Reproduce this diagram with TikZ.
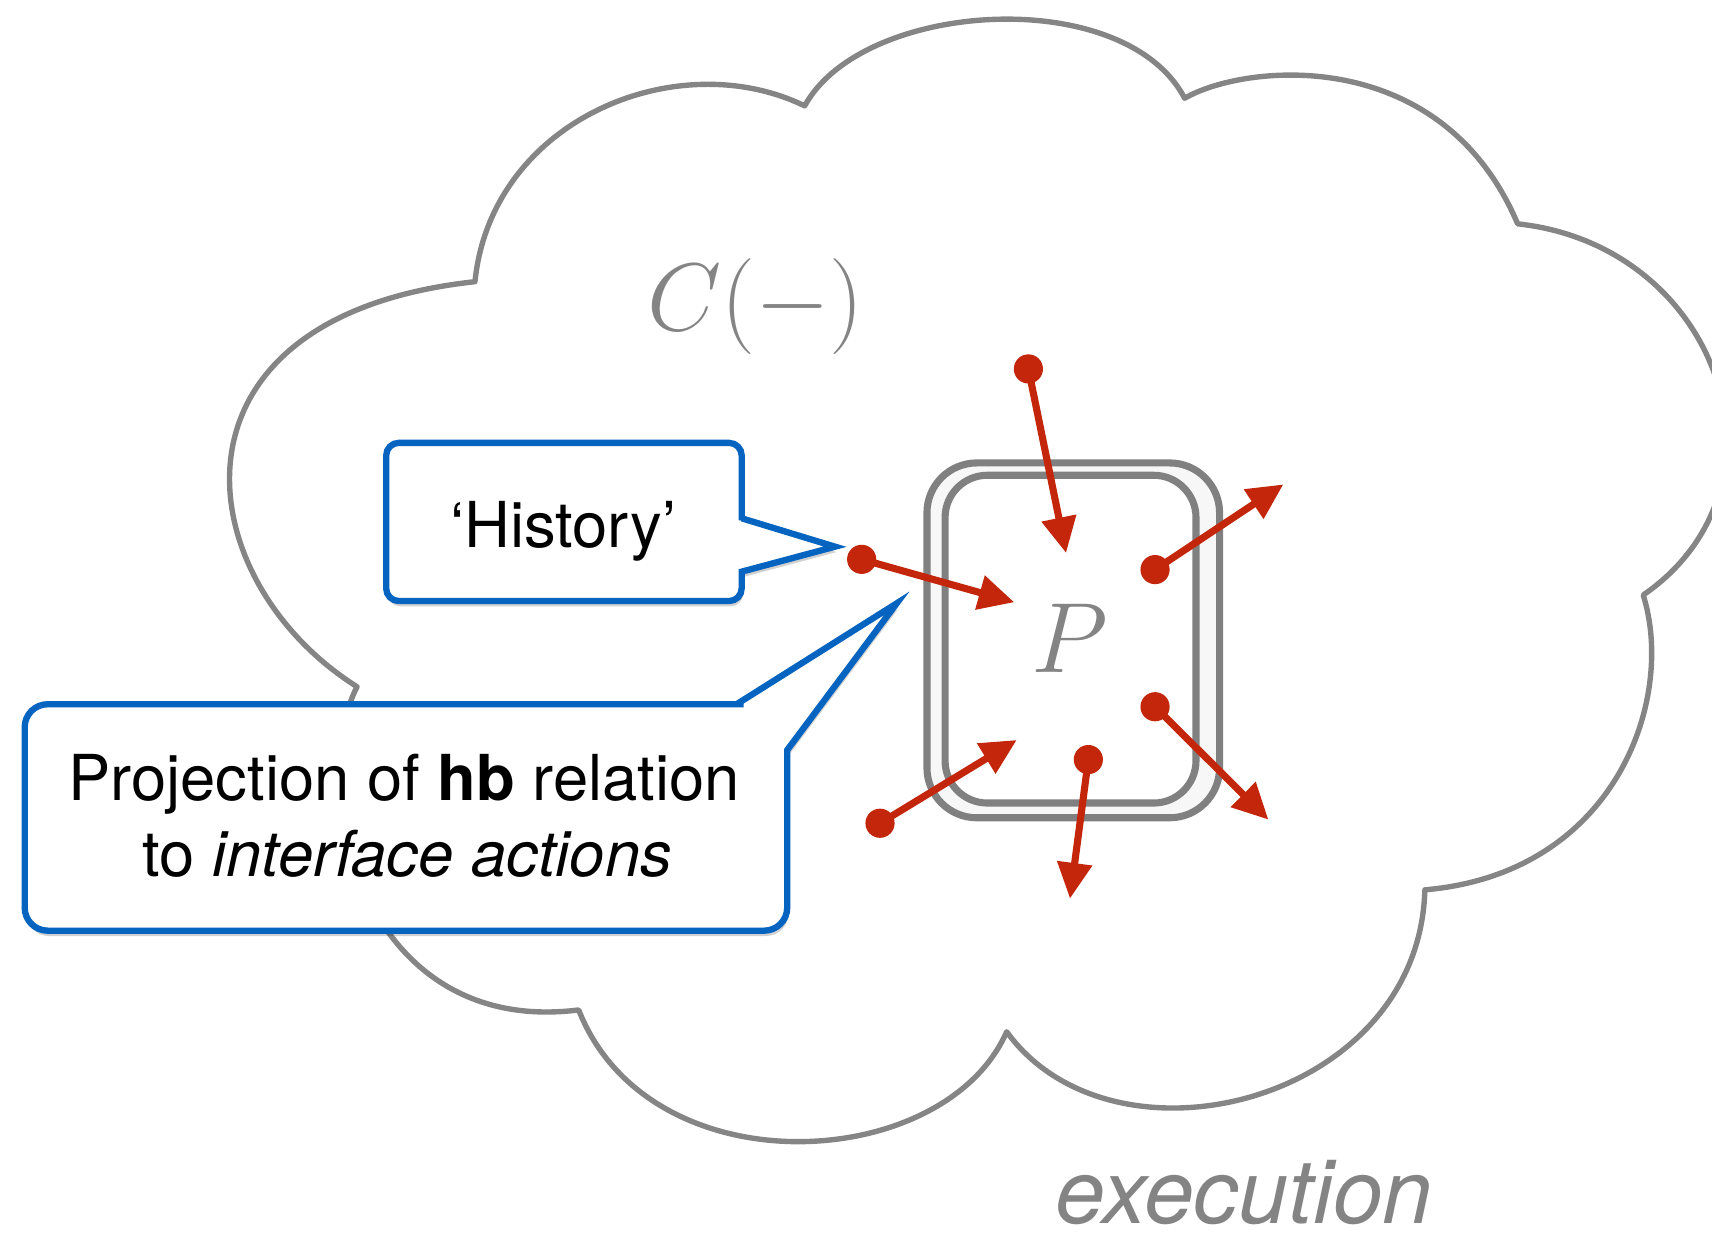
\documentclass[tikz,border=0pt]{standalone}
\usepackage{fix-cm}
\usepackage[no-math]{fontspec}
\setmainfont{TeX Gyre Heros}
\usetikzlibrary{arrows.meta,shadows}

\definecolor{cloudgray}{RGB}{133,133,133}
\definecolor{boxgray}{RGB}{128,128,128}
\definecolor{labelgray}{RGB}{132,132,132}
\definecolor{calloutblue}{RGB}{5,100,192}
\definecolor{actred}{RGB}{196,38,11}

\begin{document}
\begin{tikzpicture}[x=0.01cm, y=-0.01cm,
  cloudline/.style={draw=cloudgray, line width=1.4pt, fill=white, line join=round},
  framebox/.style={draw=boxgray, line width=1.85pt},
  callout/.style={draw=calloutblue, line width=1.65pt, fill=white, line join=miter,
    drop shadow={shadow xshift=0.4pt, shadow yshift=-1.4pt, opacity=0.18, fill=black}},
  dot/.style={circle, fill=actred, inner sep=0pt, minimum size=7.6pt},
  flow/.style={draw=actred, line width=1.85pt, -{Triangle[length=9.3pt, width=8.8pt]}},
  calltext/.style={font=\fontsize{16.5pt}{19.6pt}\selectfont, text=black, inner sep=0pt, anchor=base},
  greylabel/.style={text=labelgray, inner sep=0pt, anchor=base},
]
\useasboundingbox (0,0) rectangle (1568,1140);
\clip (0,0) rectangle (1568,1140);

% the execution cloud
\path[cloudline] (435,258)
  .. controls (450,110) and (620,40) .. (737,97)
  .. controls (790,0) and (1030,-15) .. (1085,90)
  .. controls (1140,58) and (1320,40) .. (1390,205)
  .. controls (1575,225) and (1650,445) .. (1505,545)
  .. controls (1535,640) and (1480,800) .. (1305,815)
  .. controls (1300,1010) and (1020,1080) .. (922,945)
  .. controls (865,1075) and (595,1090) .. (530,925)
  .. controls (330,950) and (280,720) .. (327,629)
  .. controls (170,530) and (140,290) .. (435,258) -- cycle;

\node[greylabel, font=\fontsize{25pt}{30pt}\selectfont] (cfun) at (692,303) {$C(-)$};

% the component P: double rounded frame
\draw[framebox, fill=gray!6, rounded corners=13pt] (849,424) rectangle (1117,749);
\draw[framebox, fill=white, rounded corners=11pt] (865.6,435.3) rectangle (1095.4,735.5);
\node[greylabel, font=\fontsize{26pt}{31pt}\selectfont] (pname) at (980,616) {$P$};

% interface actions
\node[dot] (s1) at (941.9,337.9) {};
\node[dot] (s2) at (789.2,512.3) {};
\node[dot] (s3) at (1057.9,521.7) {};
\node[dot] (s4) at (1057.9,647.3) {};
\node[dot] (s5) at (996.8,695.7) {};
\node[dot] (s6) at (806,754) {};
\coordinate (e1) at (976.4,506.5);
\coordinate (e2) at (929,551.6);
\coordinate (e3) at (1175.4,443.7);
\coordinate (e4) at (1161.7,750.7);
\coordinate (e5) at (980,823);
\coordinate (e6) at (931.2,677.8);
\draw[flow] (s1.center) -- (e1);
\draw[flow] (s2.center) -- (e2);
\draw[flow] (s3.center) -- (e3);
\draw[flow] (s4.center) -- (e4);
\draw[flow] (s5.center) -- (e5);
\draw[flow] (s6.center) -- (e6);

% callout: history
\path[callout] (516,550.5) [rounded corners=3.3pt] -- (353.7,550.5) -- (353.7,405.6)
  -- (679.3,405.6) -- (679.3,465) [sharp corners] -- (679.3,474.7) -- (764.8,500.7)
  -- (679.3,523.6) -- (679.3,533) [rounded corners=3.3pt] -- (679.3,550.5) -- cycle;
\node[calltext] (hist) at (516,501) {‘History’};

% callout: projection
\path[callout] (370,852.4) [rounded corners=6pt] -- (22.6,852.4) -- (22.6,645)
  -- (660,645) [sharp corners] -- (674.7,645) -- (821.3,552.6) -- (721,687)
  -- (721,700) [rounded corners=6pt] -- (721,852.4) -- cycle;
\node[calltext] (projA) at (370,733.6) {Projection of \textbf{hb} relation};
\node[calltext] (projB) at (373,802.6) {to \textit{interface actions}};

\node[greylabel, font=\fontsize{23.3pt}{28pt}\selectfont\itshape] (exec) at (1139.5,1121) {execution};
\end{tikzpicture}
\end{document}
